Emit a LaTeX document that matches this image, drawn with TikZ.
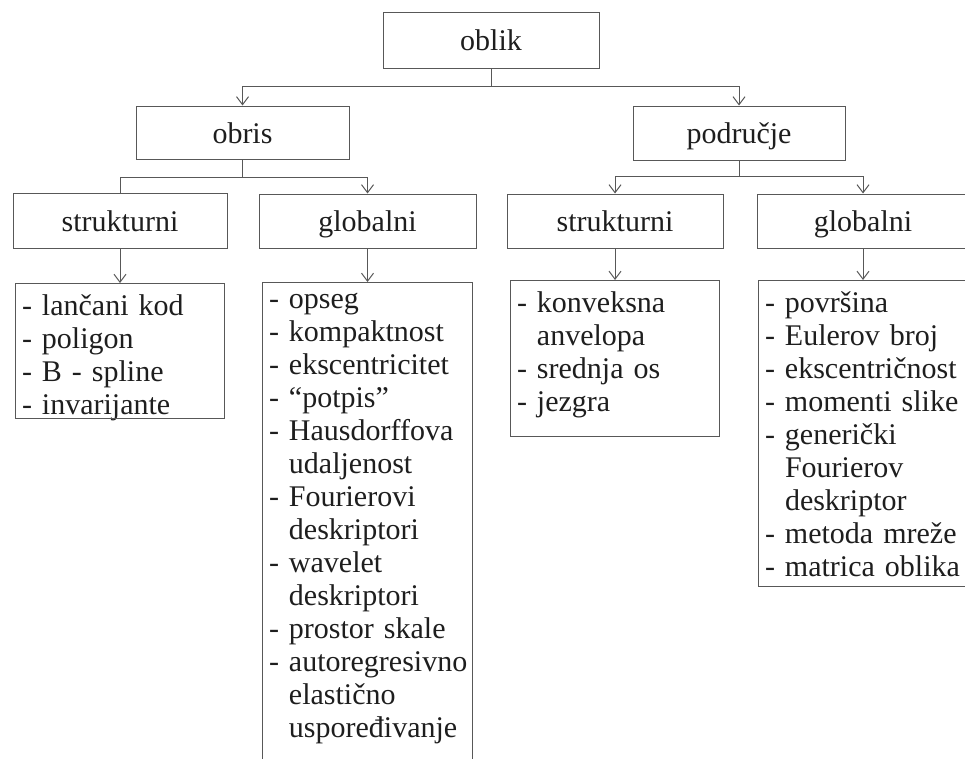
\documentclass[tikz,border=0pt]{standalone}
\usepackage{fontspec}
\setmainfont{Liberation Serif}
\usetikzlibrary{arrows.meta}
\definecolor{linija}{HTML}{585858}
\definecolor{tekst}{HTML}{1E1E1E}
\hyphenpenalty=10000
\exhyphenpenalty=10000
\newcommand{\uvl}{\phantom{-\ }}
\tikzstyle{line} = [line width=1pt, linija]
\tikzstyle{arrow} = [
	line width=1pt,
	-{Straight Barb[length=8pt,width=12pt]},
	linija,
]
\tikzstyle{kategorija} = [
  rectangle,
  minimum width=214pt,
  minimum height=54pt,
  inner sep=0pt,
  text height=21pt,
  text depth=0pt,
  text centered,
  draw=linija,
  line width=1pt,
  text=tekst,
  font=\fontsize{30}{33}\selectfont
]
\tikzstyle{popis} = [
  rectangle,
  anchor=north,
  text width=196pt,
  inner xsep=6pt,
  inner ysep=11pt,
  align=left,
  text=tekst,
  font=\fontsize{30}{33}\selectfont
]
\begin{document}
\begin{tikzpicture}[x=1pt, y=-1pt]
    \useasboundingbox (0,0) rectangle (965,758);
    \coordinate (dno) at (0,800);
    \coordinate (dnoH) at (0,418);
    \coordinate (dnoJ) at (0,436);
    \coordinate (dnoK) at (0,586);

    \node[kategorija, minimum width=216pt, minimum height=56pt] (A) at (491,40) {oblik};
    \node[kategorija, minimum width=213pt, minimum height=53pt] (B) at (242.5,132.5) {obris};
    \node[kategorija, minimum width=212pt] (C) at (739,133) {područje};
    \node[kategorija, minimum height=55pt] (D) at (120,220.5) {strukturni};
    \node[kategorija, minimum width=217pt] (E) at (367.5,221) {globalni};
    \node[kategorija, minimum width=216pt] (F) at (615,221) {strukturni};
    \node[kategorija, minimum width=212pt] (G) at (863,221) {globalni};

    \node[popis] (H) at (120,283) {- lančani kod\\- poligon\\- B - spline\\- invarijante};
    \node[popis, text width=197pt] (I) at (367.5,282) {- opseg\\- kompaktnost\\- ekscentricitet\\- “potpis”\\- Hausdorffova\\\uvl udaljenost\\- Fourierovi\\\uvl deskriptori\\- wavelet\\\uvl deskriptori\\- prostor skale\\-~autoregresivno\\\uvl elastično\\\uvl uspoređivanje};
    \node[popis] (J) at (615,280) {- konveksna\\\uvl anvelopa\\- srednja os\\- jezgra};
    \node[popis] (K) at (863,280) {- površina\\- Eulerov broj\\- ekscentričnost\\- momenti slike\\- generički\\\uvl Fourierov\\\uvl deskriptor\\- metoda mreže\\- matrica oblika};
    \draw[line] (H.north west) rectangle (H.north east |- dnoH);
    \draw[line] (I.north west |- dno) |- (I.north east) -- (I.north east |- dno);
    \draw[line] (J.north west) rectangle (J.north east |- dnoJ);
    \draw[line] (K.north west) rectangle (K.north east |- dnoK);

    \draw[arrow] (A.south) -- ++(0,18) -| (B.north);
    \draw[arrow] (A.south) -- ++(0,18) -| (C.north);
    \draw[line] (B.south) -- ++(0,18) -| (D.north);
    \draw[arrow] (B.south) -- ++(0,18) -| (E.north);
    \draw[arrow] (C.south) -- ++(0,16) -| (F.north);
    \draw[arrow] (C.south) -- ++(0,16) -| (G.north);
    \draw[arrow] (D) -- (H);
    \draw[arrow] (E) -- (I);
    \draw[arrow] (F) -- (J);
    \draw[arrow] (G) -- (K);
  \end{tikzpicture}
\end{document}
